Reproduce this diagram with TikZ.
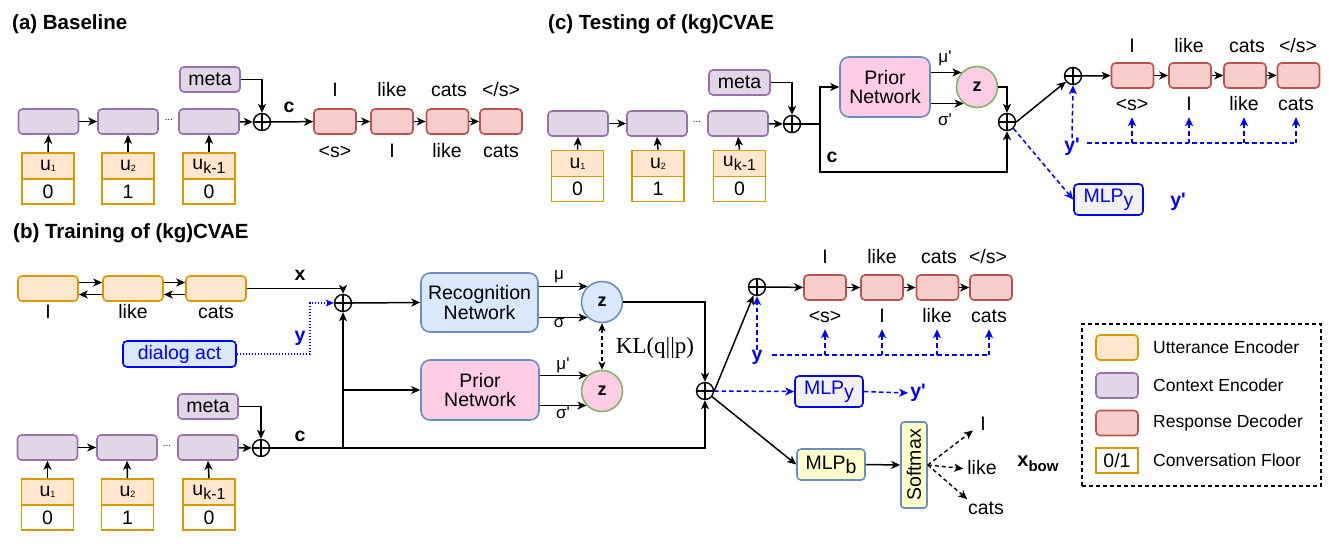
\documentclass[tikz,border=0pt]{standalone}
\usepackage{fontspec}
\setmainfont{Liberation Sans}
\newfontfamily\klfont{Liberation Serif}
\usetikzlibrary{arrows.meta}
\definecolor{uttF}{HTML}{FFE6CC}
\definecolor{uttD}{HTML}{D79B00}
\definecolor{ctxF}{HTML}{E1D5E7}
\definecolor{ctxD}{HTML}{9673A6}
\definecolor{decF}{HTML}{F8CECC}
\definecolor{decD}{HTML}{B85450}
\definecolor{recF}{HTML}{DAE8FC}
\definecolor{recD}{HTML}{6C8EBF}
\definecolor{priF}{HTML}{FFCCE6}
\definecolor{zgD}{HTML}{82B366}
\definecolor{mlpF}{HTML}{F2F2F2}
\definecolor{bluT}{HTML}{0000FF}
\definecolor{yelF}{HTML}{FFFFCC}
\newcommand{\myfs}[1]{\fontsize{#1}{#1}\selectfont}
\newcommand{\usub}[1]{u\raisebox{-1pt}{\myfs{9}#1}}
\newcommand{\ukm}{u\raisebox{-4pt}{\myfs{16}k-1}}
\newcommand{\pr}{\textquotesingle}
\tikzset{
 txt/.style={inner sep=0pt, font=\myfs{19.5}},
 lbl/.style={txt, text height=14pt, text depth=4pt},
 bld/.style={inner sep=0pt, font=\bfseries\myfs{19.5}},
 bbl/.style={bld, text=bluT},
 small/.style={inner sep=0pt, font=\myfs{17}},
 ttl/.style={inner sep=0pt, anchor=west, font=\bfseries\myfs{20.5}},
 rbox/.style={txt, line width=1.6pt, rounded corners=4pt, minimum height=25pt},
 ctx/.style={rbox, draw=ctxD, fill=ctxF, minimum width=60pt},
 utt/.style={rbox, draw=uttD, fill=uttF, minimum width=60pt},
 dec/.style={rbox, draw=decD, fill=decF, minimum width=42pt},
 ftop/.style={txt, draw=uttD, fill=uttF, line width=1.7pt, minimum width=52pt, minimum height=26pt},
 fbot/.style={txt, draw=uttD, fill=white, line width=1.7pt, minimum width=52pt, minimum height=25pt},
 oplus/.style={circle, draw, line width=1.4pt, minimum size=17pt, inner sep=0pt,
   path picture={\draw[line width=1.4pt] (path picture bounding box.north) -- (path picture bounding box.south) (path picture bounding box.west) -- (path picture bounding box.east);}},
 net/.style={txt, draw=recD, line width=1.6pt, rounded corners=9pt, align=center},
 zc/.style={circle, inner sep=0pt, minimum size=41pt, line width=1.6pt, font=\bfseries\myfs{18}},
 mlpbox/.style={txt, line width=1.6pt, rounded corners=4pt, minimum width=68pt, minimum height=31pt},
 ln/.style={line width=1.5pt},
 arr/.style={line width=1.5pt, -{Stealth[length=9pt,width=8pt,inset=2.5pt]}},
 bdash/.style={draw=bluT, line width=1.5pt, dash pattern=on 4.5pt off 3pt},
 barr/.style={bdash, -{Stealth[length=9pt,width=8pt,inset=2.5pt]}},
 kdash/.style={line width=1.4pt, dash pattern=on 4pt off 3pt, -{Stealth[length=9pt,width=8pt,inset=2.5pt]}},
}
\begin{document}
\begin{tikzpicture}[x=1pt,y=-1pt]
\fill[white] (0,0) rectangle (1329,547);
\useasboundingbox (0,0) rectangle (1329,547);

% ---------------- (a) Baseline ----------------
\node[ttl] (tA) at (12,24) {(a) Baseline};
\node[ctx] (a1) at (48.5,121.5) {};
\node[ctx] (a2) at (128,121.5) {};
\node[ctx] (a3) at (209,121.5) {};
\node[txt, font=\myfs{10}] (adots) at (169,120) {...};
\node[ctx] (ameta) at (210,79.5) {meta};
\node[oplus] (ap) at (262,122) {};
\node[bld] (acl) at (289,107) {c};
\node[dec] (ad1) at (335,121.5) {};
\node[dec] (ad2) at (392,121.5) {};
\node[dec] (ad3) at (447.5,121.5) {};
\node[dec] (ad4) at (501,121.5) {};
\node[lbl] (at1) at (335,91) {I};
\node[lbl] (at2) at (392,91) {like};
\node[lbl] (at3) at (449,91) {cats};
\node[lbl] (at4) at (501,91) {</s>};
\node[lbl] (ab1) at (335,152) {<s>};
\node[lbl] (ab2) at (392,152) {I};
\node[lbl] (ab3) at (447,152) {like};
\node[lbl] (ab4) at (501,152) {cats};
\node[ftop] (au1t) at (48,166) {\usub{1}};
\node[fbot] (au1b) at (48,191.5) {0};
\node[ftop] (au2t) at (128,166) {\usub{2}};
\node[fbot] (au2b) at (128,191.5) {1};
\node[ftop] (au3t) at (209,166) {\ukm};
\node[fbot] (au3b) at (209,191.5) {0};
\draw[arr] (au1t.north) -- (a1.south);
\draw[arr] (au2t.north) -- (a2.south);
\draw[arr] (au3t.north) -- (a3.south);
\draw[arr] (a1) -- (a2);
\draw[arr] (a3) -- (ap);
\draw[arr] (ameta.east) -| (ap.north);
\draw[arr] (ap) -- (ad1);
\draw[arr] (ad1) -- (ad2);
\draw[arr] (ad2) -- (ad3);
\draw[arr] (ad3) -- (ad4);

% ---------------- (c) Testing ----------------
\node[ttl] (tC) at (548,24) {(c) Testing of (kg)CVAE};
\node[ctx] (c1) at (578,123.5) {};
\node[ctx] (c2) at (657,123.5) {};
\node[ctx] (c3) at (738,123.5) {};
\node[txt, font=\myfs{10}] (cdots) at (697,122) {...};
\node[ctx, minimum width=61pt] (cmeta) at (739.5,82.5) {meta};
\node[oplus] (cp) at (792,124) {};
\node[ftop] (cu1t) at (577.5,163.5) {\usub{1}};
\node[fbot] (cu1b) at (577.5,189) {0};
\node[ftop] (cu2t) at (658,163.5) {\usub{2}};
\node[fbot] (cu2b) at (658,189) {1};
\node[ftop] (cu3t) at (739.5,163.5) {\ukm};
\node[fbot] (cu3b) at (739.5,189) {0};
\coordinate (cbr) at (820,124);
\coordinate (ccor) at (1007,172);
\node[net, fill=priF, minimum width=90pt, minimum height=60pt] (cpri) at (885,87) {Prior\\Network};
\node[zc, draw=zgD, fill=priF] (cz) at (977,87) {z};
\node[small] (cmu) at (945,58) {μ\pr};
\node[small] (csg) at (945,120) {σ\pr};
\node[oplus] (cp2) at (1007,122) {};
\node[oplus] (cp3) at (1073,76) {};
\node[bld] (ccl) at (832,157) {c};
\node[dec] (cd1) at (1132.5,75.5) {};
\node[dec] (cd2) at (1190,75.5) {};
\node[dec] (cd3) at (1245,75.5) {};
\node[dec] (cd4) at (1298.5,75.5) {};
\node[lbl] (ct1) at (1132,47) {I};
\node[lbl] (ct2) at (1189,47) {like};
\node[lbl] (ct3) at (1247,47) {cats};
\node[lbl] (ct4) at (1298,47) {</s>};
\node[lbl] (cb1) at (1132,105) {<s>};
\node[lbl] (cb2) at (1189,105) {I};
\node[lbl] (cb3) at (1244,105) {like};
\node[lbl] (cb4) at (1296,105) {cats};
\node[bbl] (cyp) at (1072,147) {y\pr};
\node[mlpbox, draw=bluT, fill=mlpF, text=bluT, minimum width=69pt] (cmlp) at (1108.5,199.5) {MLP\raisebox{-4pt}{y}};
\node[bbl] (cyp2) at (1178,202) {y\pr};
\coordinate (cyh0) at (1087,143);
\draw[arr] (cu1t.north) -- (c1.south);
\draw[arr] (cu2t.north) -- (c2.south);
\draw[arr] (cu3t.north) -- (c3.south);
\draw[arr] (c1) -- (c2);
\draw[arr] (c3) -- (cp);
\draw[arr] (cmeta.east) -| (cp.north);
\draw[ln] (cp.east) -- (cbr);
\draw[arr] (cbr) |- (cpri.west);
\draw[arr] (cbr) |- (ccor) -- (cp2.south);
\draw[arr] (cpri.east |- cz.137) -- (cz.137);
\draw[arr] (cpri.east |- cz.231) -- (cz.231);
\draw[arr] (cz.east) -| (cp2.north);
\draw[arr] (cp2.east) -- (cp3);
\draw[arr] (cp3) -- (cd1);
\draw[arr] (cd1) -- (cd2);
\draw[arr] (cd2) -- (cd3);
\draw[arr] (cd3) -- (cd4);
\draw[barr] (cyp.north) -- (cp3.south);
\draw[bdash] (cyh0) -- (cb4 |- cyh0);
\foreach \n in {cb1,cb2,cb3,cb4} \draw[barr] (\n |- cyh0) -- ([yshift=-3pt]\n.south);
\draw[barr] (cp2.south east) -- (cmlp.west);

% ---------------- (b) Training ----------------
\node[ttl] (tB) at (13,233) {(b) Training of (kg)CVAE};
\node[utt] (bu1) at (48,288.5) {};
\node[utt] (bu2) at (133,288.5) {};
\node[utt] (bu3) at (216,288.5) {};
\node[lbl] (bl1) at (48,313) {I};
\node[lbl] (bl2) at (133,313) {like};
\node[lbl] (bl3) at (216,313) {cats};
\draw[arr] ([yshift=6pt]bu1.east) -- ([yshift=6pt]bu2.west);
\draw[arr] ([yshift=-6pt]bu2.west) -- ([yshift=-6pt]bu1.east);
\draw[arr] ([yshift=6pt]bu2.east) -- ([yshift=6pt]bu3.west);
\draw[arr] ([yshift=-6pt]bu3.west) -- ([yshift=-6pt]bu2.east);
\node[bld] (bxl) at (300,275) {x};
\node[oplus] (bp) at (343,303) {};
\draw[arr] (bu3.east) -| (bp.north);
\node[txt, draw=bluT, fill=recF, text=bluT, line width=1.6pt, rounded corners=4pt, minimum width=113pt, minimum height=26pt] (bda) at (179.5,354) {dialog act};
\node[bbl] (byl) at (300,338) {y};
\coordinate (bdv) at (310,354);
\draw[bluT, line width=1.1pt, dash pattern=on 1.5pt off 1.5pt, -{Stealth[length=8pt,width=7pt,inset=2pt]}] (bda.east) -- (bdv) |- (bp.west);
\node[ctx] (bmeta) at (208,406.5) {meta};
\node[ctx] (bc1) at (47.5,447.5) {};
\node[ctx] (bc2) at (127,447.5) {};
\node[ctx] (bc3) at (208,447.5) {};
\node[txt, font=\myfs{10}] (bdots) at (167,446) {...};
\node[oplus] (bpc) at (261,448) {};
\node[bld] (bcl) at (300,436) {c};
\node[ftop] (bf1t) at (47.5,492) {\usub{1}};
\node[fbot] (bf1b) at (47.5,517.5) {0};
\node[ftop] (bf2t) at (127.5,492) {\usub{2}};
\node[fbot] (bf2b) at (127.5,517.5) {1};
\node[ftop] (bf3t) at (209,492) {\ukm};
\node[fbot] (bf3b) at (209,517.5) {0};
\draw[arr] (bf1t.north) -- (bc1.south);
\draw[arr] (bf2t.north) -- (bc2.south);
\draw[arr] (bf3t.north) -- (bc3.south);
\draw[arr] (bc1) -- (bc2);
\draw[arr] (bc3) -- (bpc);
\draw[arr] (bmeta.east) -| (bpc.north);
\coordinate (bbr) at (343,448);
\coordinate (bbr2) at (343,390);
\node[net, fill=recF, minimum width=117pt, minimum height=59pt] (brec) at (479.5,302.5) {Recognition\\Network};
\node[net, fill=priF, minimum width=118pt, minimum height=60pt] (bpri) at (480,390) {Prior\\Network};
\node[zc, draw=recD, fill=recF] (bz1) at (602,302) {z};
\node[zc, draw=zgD, fill=priF] (bz2) at (602,391) {z};
\node[small] (bmu) at (559,277) {μ};
\node[small] (bsg) at (559,323) {σ};
\node[small] (bmu2) at (563,365) {μ\pr};
\node[small] (bsg2) at (563,413) {σ\pr};
\node[inner sep=0pt, font=\klfont\myfs{23}] (bkl) at (655,348) {KL(q||p)};
\node[oplus] (bp2) at (705,391) {};
\node[oplus] (bp3) at (757,287) {};
\draw[arr] (bp.east) -- (brec.west);
\draw[arr] (bbr) -- (bp.south);
\draw[arr] (bbr2) -- (bpri.west);
\draw[arr] (bpc.east) -| (bp2.south);
\draw[arr] (brec.east |- bz1.133) -- (bz1.133);
\draw[arr] (brec.east |- bz1.227) -- (bz1.227);
\draw[arr] (bpri.east |- bz2.133) -- (bz2.133);
\draw[arr] (bpri.east |- bz2.223) -- (bz2.223);
\draw[line width=1.3pt, dash pattern=on 4pt off 3pt, {Stealth[length=8pt,width=7pt,inset=2pt]}-{Stealth[length=8pt,width=7pt,inset=2pt]}] (bz1.south) -- (bz2.north);
\draw[arr] (bz1.east) -| (bp2.north);
\draw[arr] (bp2.east) -- (bp3);
\node[dec] (bd1) at (825,287.5) {};
\node[dec] (bd2) at (882,287.5) {};
\node[dec] (bd3) at (937.5,287.5) {};
\node[dec] (bd4) at (991,287.5) {};
\node[lbl] (bt1) at (825,258) {I};
\node[lbl] (bt2) at (882,258) {like};
\node[lbl] (bt3) at (939,258) {cats};
\node[lbl] (bt4) at (988,258) {</s>};
\node[lbl] (bb1) at (825,317) {<s>};
\node[lbl] (bb2) at (882,317) {I};
\node[lbl] (bb3) at (937,317) {like};
\node[lbl] (bb4) at (989,317) {cats};
\draw[arr] (bp3) -- (bd1);
\draw[arr] (bd1) -- (bd2);
\draw[arr] (bd2) -- (bd3);
\draw[arr] (bd3) -- (bd4);
\node[bbl] (byl2) at (757,357) {y};
\coordinate (byh0) at (772,355);
\draw[barr] (byl2.north) -- (bp3.south);
\draw[bdash] (byh0) -- (bb4 |- byh0);
\foreach \n in {bb1,bb2,bb3,bb4} \draw[barr] (\n |- byh0) -- ([yshift=-3pt]\n.south);
\node[mlpbox, draw=bluT, fill=mlpF, text=bluT] (bmy) at (829,391.5) {MLP\raisebox{-4pt}{y}};
\node[bbl] (byp) at (918,393) {y\pr};
\draw[barr] (bp2.east) -- (bmy.west);
\draw[barr] (bmy.east) -- ([xshift=-2pt]byp.west);
\node[mlpbox, draw=recD, fill=yelF] (bmb) at (831,464.5) {MLP\raisebox{-4pt}{b}};
\draw[arr] (bp2) -- (bmb.west);
\node[draw=recD, fill=yelF, line width=1.6pt, rounded corners=3pt, minimum width=26pt, minimum height=86pt, inner sep=0pt] (bsm) at (914,465) {};
\node[txt, rotate=90] (bsmt) at (bsm.center) {Softmax};
\draw[arr] (bmb.east) -- (bsm.west);
\node[lbl] (xo1) at (983,425) {I};
\node[lbl] (xo2) at (982,469) {like};
\node[lbl] (xo3) at (986,509) {cats};
\draw[kdash, shorten >=9pt] (bsm.east) -- (xo1.west);
\draw[kdash, shorten >=4pt] (bsm.east) -- (xo2.west);
\draw[kdash, shorten >=1pt] (bsm.east) -- (xo3.north west);
\node[inner sep=0pt, font=\bfseries\myfs{20}] (xbow) at (1038,464) {x\raisebox{-5pt}{\myfs{15}bow}};

% ---------------- legend ----------------
\node[draw, line width=1.5pt, dash pattern=on 4pt off 3pt, minimum width=239pt, minimum height=162pt, inner sep=0pt] (leg) at (1201.5,405) {};
\node[utt, minimum width=42pt] (lg1) at (1117,347.5) {};
\node[ctx, minimum width=42pt] (lg2) at (1117,385.5) {};
\node[dec, minimum width=42pt] (lg3) at (1117,423) {};
\node[fbot, minimum width=42pt] (lg4) at (1117,460.5) {0/1};
\node[inner sep=0pt, anchor=west, font=\myfs{17.5}] (lt1) at (1153,347.5) {Utterance Encoder};
\node[inner sep=0pt, anchor=west, font=\myfs{17.5}] (lt2) at (1153,385) {Context Encoder};
\node[inner sep=0pt, anchor=west, font=\myfs{17.5}] (lt3) at (1153,423) {Response Decoder};
\node[inner sep=0pt, anchor=west, font=\myfs{17.5}] (lt4) at (1153,460) {Conversation Floor};
\end{tikzpicture}
\end{document}
